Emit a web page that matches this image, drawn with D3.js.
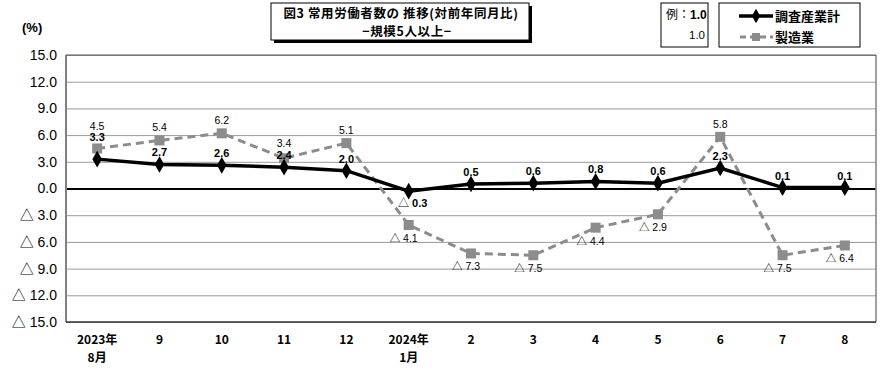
<!DOCTYPE html>
<html>
<head>
<meta charset="utf-8">
<script src="https://cdn.jsdelivr.net/npm/d3@7"></script>
<style>
  body { margin: 0; background: #fff; }
  svg { display: block; }
  text { font-family: "Liberation Sans", Arial, sans-serif; }
  .jp { font-family: "Noto Sans CJK JP", sans-serif; }
  .tri { font-family: "Noto Sans CJK JP", sans-serif; font-weight: normal; }
</style>
</head>
<body>
<svg id="chart" width="890" height="371"></svg>
<script>
// months (first and seventh carry the year)
var categories = ["2023年|8月", "9", "10", "11", "12", "2024年|1月", "2", "3", "4", "5", "6", "7", "8"];
// 調査産業計
var totalValues = [3.3, 2.7, 2.6, 2.4, 2.0, -0.3, 0.5, 0.6, 0.8, 0.6, 2.3, 0.1, 0.1];
// 製造業
var mfgValues = [4.5, 5.4, 6.2, 3.4, 5.1, -4.1, -7.3, -7.5, -4.4, -2.9, 5.8, -7.5, -6.4];
var yTicks = [15, 12, 9, 6, 3, 0, -3, -6, -9, -12, -15];

var svg = d3.select("#chart");
var plotLeft = 66, plotRight = 876, plotTop = 55, plotBottom = 322;

var x = d3.scaleBand().domain(d3.range(categories.length)).range([plotLeft, plotRight]).padding(0);
var y = d3.scaleLinear().domain([-15, 15]).range([plotBottom, plotTop]);

// write a value as text, negatives get the △ mark
function writeValue(sel, v) {
    sel.text(null);
    if (v < 0) {
        sel.append("tspan").attr("class", "tri").text("△");
        sel.append("tspan").text(" " + Math.abs(v).toFixed(1));
    } else {
        sel.append("tspan").text(v.toFixed(1));
    }
}

// grid + y labels
var yAxis = svg.append("g")
    .attr("transform", "translate(" + plotLeft + ",0)")
    .call(d3.axisLeft(y).tickValues(yTicks).tickSize(-(plotRight - plotLeft)).tickPadding(9));
yAxis.select(".domain").remove();
yAxis.selectAll(".tick line")
    .attr("stroke", function(d) { return d === 0 ? "#000" : "#9a9a9a"; })
    .attr("stroke-width", function(d) { return d === 0 ? 2 : 1; });
yAxis.selectAll(".tick text")
    .attr("fill", "#000")
    .style("font-size", "14px")
    .style("font-family", "'Liberation Sans', Arial, sans-serif")
    .each(function(d) { writeValue(d3.select(this), d); });

// frame
svg.append("line").attr("x1", plotLeft).attr("x2", plotLeft).attr("y1", plotTop).attr("y2", plotBottom)
    .attr("stroke", "#808080").attr("stroke-width", 2);
svg.append("line").attr("x1", plotRight).attr("x2", plotRight).attr("y1", plotTop).attr("y2", plotBottom)
    .attr("stroke", "#808080").attr("stroke-width", 1.5);
svg.append("line").attr("x1", plotLeft).attr("x2", plotRight).attr("y1", plotTop).attr("y2", plotTop)
    .attr("stroke", "#555").attr("stroke-width", 1);
svg.append("line").attr("x1", plotLeft).attr("x2", plotRight).attr("y1", plotBottom).attr("y2", plotBottom)
    .attr("stroke", "#333").attr("stroke-width", 1.5);

// x labels
var xAxis = svg.append("g")
    .attr("transform", "translate(0," + plotBottom + ")")
    .call(d3.axisBottom(x).tickSize(0).tickFormat(""));
xAxis.select(".domain").remove();
xAxis.selectAll(".tick").each(function(d) {
    var parts = categories[d].split("|");
    var t = d3.select(this).append("text")
        .attr("class", "jp")
        .attr("fill", "#000")
        .attr("text-anchor", "middle")
        .style("font-size", "12px")
        .style("font-weight", "bold");
    parts.forEach(function(p, i) {
        t.append("tspan").attr("x", 0).attr("y", 22 + i * 18).text(p);
    });
});

var cx = function(i) { return x(i) + x.bandwidth() / 2; };

// 製造業 line
svg.append("path")
    .datum(mfgValues)
    .attr("fill", "none")
    .attr("stroke", "#8c8c8c")
    .attr("stroke-width", 3)
    .attr("stroke-dasharray", "8,5")
    .attr("d", d3.line().x(function(d, i) { return cx(i); }).y(function(d) { return y(d); }));

svg.append("g").selectAll("rect")
    .data(mfgValues)
    .enter().append("rect")
    .attr("x", function(d, i) { return cx(i) - 5; })
    .attr("y", function(d) { return y(d) - 5; })
    .attr("width", 10).attr("height", 10)
    .attr("fill", "#8c8c8c");

// 調査産業計 line
svg.append("path")
    .datum(totalValues)
    .attr("fill", "none")
    .attr("stroke", "#000")
    .attr("stroke-width", 3.5)
    .attr("d", d3.line().x(function(d, i) { return cx(i); }).y(function(d) { return y(d); }));

svg.append("g").selectAll("path")
    .data(totalValues)
    .enter().append("path")
    .attr("transform", function(d, i) { return "translate(" + cx(i) + "," + y(d) + ")"; })
    .attr("d", d3.symbol().type(d3.symbolDiamond).size(80))
    .attr("fill", "#000");

// label positions: lift labels when the black one lands on the gray marker
var totalLabelY = [], mfgLabelY = [];
totalValues.forEach(function(v, i) {
    var gy = y(mfgValues[i]);
    var ty = v >= 0 ? y(v) - 8 : y(v) + 16;
    var my = mfgValues[i] >= 0 ? gy - 9 : gy + 17;
    if (v >= 0 && mfgValues[i] >= 0) {
        var gap = Math.abs(ty - 4 - gy);
        if (gap < 2.5) {
            ty = gy - 7;
            my = ty - 11;
        } else if (gap < 8) {
            my = Math.min(my, ty - 12);
        }
    }
    totalLabelY.push(ty);
    mfgLabelY.push(my);
});

svg.append("g").selectAll("text")
    .data(mfgValues)
    .enter().append("text")
    .attr("x", function(d, i) { return d < 0 ? cx(i) - 5 : cx(i); })
    .attr("y", function(d, i) { return mfgLabelY[i]; })
    .attr("text-anchor", "middle")
    .style("font-size", "10.5px")
    .attr("fill", "#000")
    .each(function(d) { writeValue(d3.select(this), d); });

svg.append("g").selectAll("text")
    .data(totalValues)
    .enter().append("text")
    .attr("x", function(d, i) { return d < 0 ? cx(i) + 4 : cx(i); })
    .attr("y", function(d, i) { return totalLabelY[i]; })
    .attr("text-anchor", "middle")
    .style("font-size", "11px")
    .style("font-weight", "bold")
    .attr("fill", "#000")
    .each(function(d) { writeValue(d3.select(this), d); });

// unit
svg.append("text").attr("x", 22).attr("y", 32)
    .style("font-size", "13px").style("font-weight", "bold").text("(%)");

// title box
svg.append("rect").attr("x", 274).attr("y", 6).attr("width", 258).attr("height", 37).attr("fill", "#000");
svg.append("rect").attr("x", 271).attr("y", 3).attr("width", 258).attr("height", 37)
    .attr("fill", "#fff").attr("stroke", "#000").attr("stroke-width", 1);
svg.append("text").attr("class", "jp").attr("x", 401).attr("y", 18).attr("text-anchor", "middle")
    .style("font-size", "12.5px").style("font-weight", "bold").style("letter-spacing", "0.6px")
    .text("図3  常用労働者数の 推移(対前年同月比)");
svg.append("text").attr("class", "jp").attr("x", 407).attr("y", 36).attr("text-anchor", "middle")
    .style("font-size", "12.5px").style("font-weight", "bold").style("letter-spacing", "0.6px")
    .text("−規模5人以上−");

// example box
svg.append("rect").attr("x", 661).attr("y", 3).attr("width", 47).attr("height", 44)
    .attr("fill", "#fff").attr("stroke", "#000").attr("stroke-width", 1);
var ex = svg.append("text").attr("x", 666).attr("y", 19).style("font-size", "12px");
ex.append("tspan").attr("class", "jp").text("例：");
ex.append("tspan").style("font-weight", "bold").text("1.0");
svg.append("text").attr("x", 705).attr("y", 39).attr("text-anchor", "end")
    .style("font-size", "11.5px").text("1.0");

// legend
var lg = svg.append("g");
lg.append("rect").attr("x", 719).attr("y", 3).attr("width", 141).attr("height", 44)
    .attr("fill", "#fff").attr("stroke", "#000").attr("stroke-width", 1);
lg.append("line").attr("x1", 739).attr("x2", 773).attr("y1", 16).attr("y2", 16)
    .attr("stroke", "#000").attr("stroke-width", 3.5);
lg.append("path").attr("transform", "translate(756,16)")
    .attr("d", d3.symbol().type(d3.symbolDiamond).size(60)).attr("fill", "#000");
lg.append("text").attr("class", "jp").attr("x", 775).attr("y", 21)
    .style("font-size", "13px").style("font-weight", "bold").text("調査産業計");
lg.append("line").attr("x1", 740).attr("x2", 773).attr("y1", 37).attr("y2", 37)
    .attr("stroke", "#8c8c8c").attr("stroke-width", 3).attr("stroke-dasharray", "6,4");
lg.append("rect").attr("x", 752).attr("y", 33).attr("width", 8).attr("height", 8).attr("fill", "#8c8c8c");
lg.append("text").attr("class", "jp").attr("x", 775).attr("y", 42)
    .style("font-size", "13px").style("font-weight", "bold").text("製造業");
</script>
</body>
</html>
